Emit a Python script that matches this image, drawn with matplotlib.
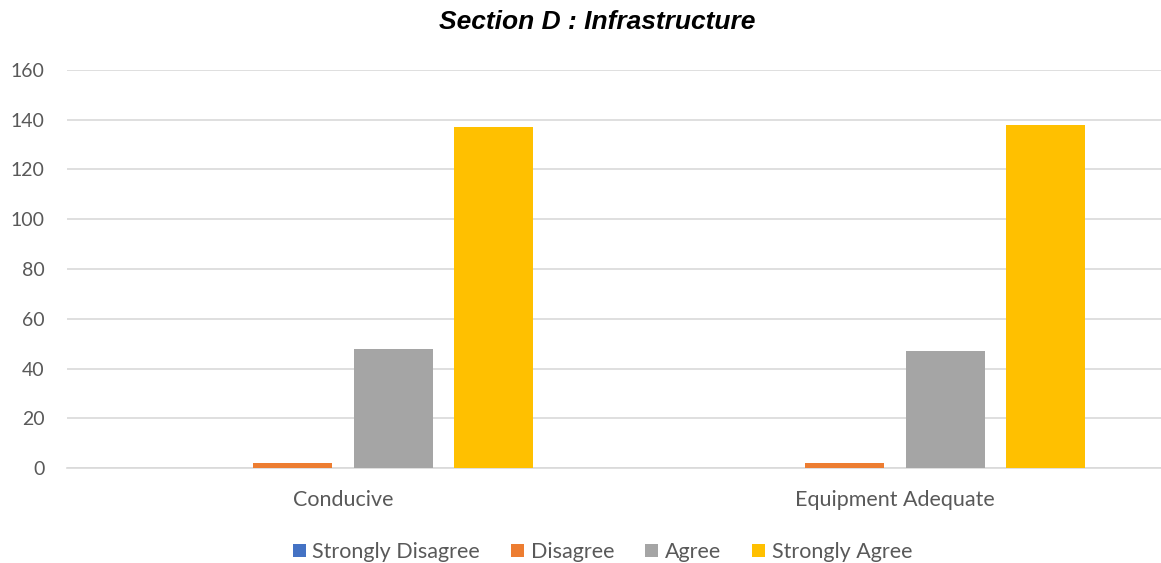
import numpy as np
import matplotlib
matplotlib.use("Agg")
import matplotlib.pyplot as plt

# data
categories = ["Conducive", "Equipment Adequate"]
series_names = ["Strongly Disagree", "Disagree", "Agree", "Strongly Agree"]
strongly_disagree = [0, 0]
disagree = [2, 2]
agree = [48, 47]
strongly_agree = [137, 138]
colors = ["#4472C4", "#ED7D31", "#A5A5A5", "#FFC000"]

plt.rcParams['font.family'] = ['Lato', 'DejaVu Sans']

fig = plt.figure(figsize=(11.61, 5.63), dpi=100)
# plot area runs past the right edge of the picture, like the original
ax = fig.add_axes([0.0577, 0.1687, 0.951, 0.707])

x = np.arange(len(categories))
slot = 0.182
width = 0.143
all_series = [strongly_disagree, disagree, agree, strongly_agree]
for i, vals in enumerate(all_series):
    ax.bar(x + (i - 1.5) * slot, vals, width, color=colors[i], label=series_names[i], zorder=3)

ax.set_xlim(-0.5, 1.5)
ax.set_ylim(0, 160)
ax.set_yticks(range(0, 161, 20))
ax.set_xticks(x)
ax.set_xticklabels(categories, fontsize=15.5)
ax.grid(axis='y', color='#D9D9D9', linewidth=1.2, zorder=0)
for s in ['top', 'right', 'left']:
    ax.spines[s].set_visible(False)
ax.spines['bottom'].set_color('#D9D9D9')
ax.spines['bottom'].set_linewidth(1.2)
ax.tick_params(axis='both', length=0, colors='#595959', labelsize=14)
ax.tick_params(axis='x', labelsize=15.5, pad=16)
ax.tick_params(axis='y', pad=16)

fig.text(0.514, 0.961, "Section D : Infrastructure", fontsize=19, fontweight='bold', fontstyle='italic',
         family=['Liberation Sans'], ha='center', va='center')

leg = fig.legend(loc='center', bbox_to_anchor=(0.519, 1 - 552 / 563), ncol=4, frameon=False,
                 fontsize=15.5, handlelength=0.6, handleheight=0.6, handletextpad=0.3, columnspacing=1.45)
for t in leg.get_texts():
    t.set_color('#595959')

fig.savefig("out.png", dpi=100)
